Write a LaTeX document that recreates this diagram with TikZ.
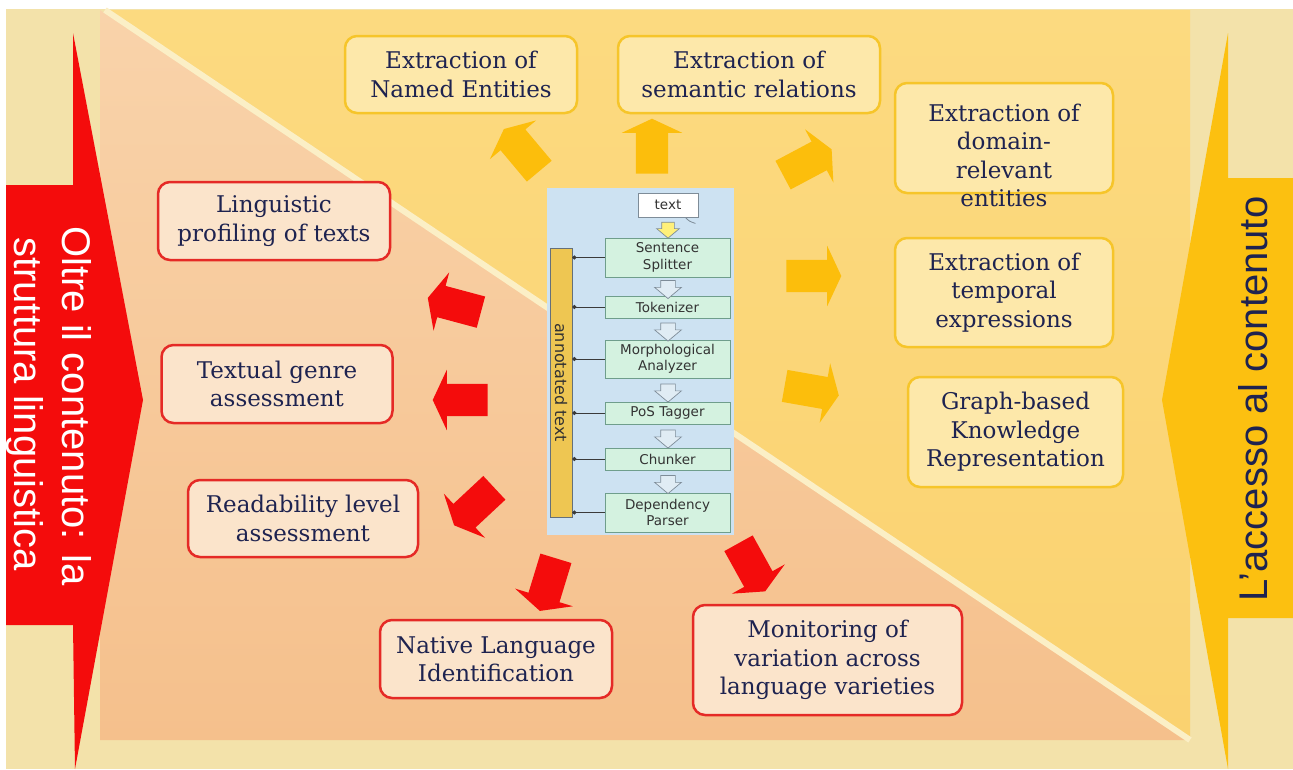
\documentclass[tikz,border=0pt]{standalone}
\usepackage{fontspec}
\setmainfont{DejaVu Serif}
\newfontfamily\bigsans{Liberation Sans}
\newfontfamily\smallsans{DejaVu Sans}
\usetikzlibrary{shapes.arrows,arrows.meta}
\definecolor{bgpale}{HTML}{F3E2AA}
\definecolor{yeltop}{HTML}{FCDA80}
\definecolor{yelbot}{HTML}{FAD270}
\definecolor{peachtop}{HTML}{F9D3AA}
\definecolor{peachbot}{HTML}{F5C08C}
\definecolor{diag}{HTML}{FBEFC6}
\definecolor{redA}{HTML}{F40C0C}
\definecolor{goldA}{HTML}{FCBE0C}
\definecolor{goldB}{HTML}{FCC010}
\definecolor{navy}{HTML}{1E2350}
\definecolor{rboxfill}{HTML}{FBE4CB}
\definecolor{yboxfill}{HTML}{FDE8AA}
\definecolor{rboxline}{HTML}{E52A26}
\definecolor{yboxline}{HTML}{F6C52A}
\definecolor{pipebg}{HTML}{CDE2F2}
\definecolor{pipebox}{HTML}{D4F2E0}
\definecolor{pipeline}{HTML}{6F9E8C}
\definecolor{pipetext}{HTML}{333333}
\definecolor{anncol}{HTML}{EEC652}
\definecolor{hollow}{HTML}{E0ECF4}
\definecolor{arrgray}{HTML}{7E8C98}
\definecolor{conncol}{HTML}{3A3A3A}
\definecolor{txtyel}{HTML}{FFF07A}
\newcommand\boxfont{\fontsize{23}{28.5}\selectfont}
\newcommand\pipefont{\smallsans\fontsize{13.5}{16.5}\selectfont}
\newcommand\hugefont{\bigsans\fontsize{40}{48}\selectfont}
\begin{document}
\begin{tikzpicture}[x=1pt,y=-1pt,
  rbox/.style={draw=rboxline, fill=rboxfill, line width=2.5pt, rounded corners=12pt, align=center, text=navy, font=\boxfont, inner sep=2pt},
  ybox/.style={draw=yboxline, fill=yboxfill, line width=2.5pt, rounded corners=12pt, align=center, text=navy, font=\boxfont, inner sep=2pt},
  btext/.style={align=center, text=navy, font=\boxfont, inner sep=0pt},
  blockarr/.style={single arrow, draw=none, inner xsep=0pt, inner ysep=16pt, minimum height=55pt, single arrow head extend=14pt, single arrow tip angle=130},
  garr/.style={blockarr, fill=goldA},
  rarr/.style={blockarr, fill=redA},
  pbox/.style={draw=pipeline, fill=pipebox, line width=0.8pt, minimum width=125pt, align=center, font=\pipefont, text=pipetext, inner sep=0pt},
  parr/.style={single arrow, draw=arrgray, fill=hollow, line width=0.7pt, inner xsep=0pt, inner ysep=7pt, minimum height=18pt, single arrow head extend=6pt, single arrow tip angle=100, rotate=-90},
  conn/.style={draw=conncol, line width=0.8pt, -{Circle[length=4pt]}},
  bigtext/.style={font=\hugefont, inner sep=0pt}
]
\useasboundingbox (0,0) rectangle (1293,769);
% background
\fill[white] (0,0) rectangle (1293,769);
\fill[bgpale] (6,9) rectangle (1293,769);
\shade[top color=peachtop, bottom color=peachbot] (100,10) -- (1190,740) -- (100,740) -- cycle;
\shade[top color=yeltop, bottom color=yelbot] (105,10) -- (1190,10) -- (1190,740) -- cycle;
\draw[diag, line width=6pt] (105,10) -- (1190,740);
% big side arrows
\fill[redA] (6,185) -- (73,185) -- (73,33) -- (143,400) -- (75,769) -- (73,625) -- (6,625) -- cycle;
\fill[goldB] (1293,178) -- (1228,178) -- (1228,33) -- (1162,400) -- (1228,769) -- (1228,618) -- (1293,618) -- cycle;
\node[bigtext, text=white, rotate=-90, anchor=base] (lt1) at (62,406) {Oltre il contenuto: la};
\node[bigtext, text=white, rotate=-90, anchor=base] (lt2) at (14,404) {struttura linguistica};
\node[bigtext, text=navy, rotate=90, anchor=base] (rt) at (1267,399) {L’accesso al contenuto};
% yellow boxes
\node[ybox, minimum width=232pt, minimum height=77pt] (ne) at (461,74.5) {Extraction of\\Named Entities};
\node[ybox, minimum width=262pt, minimum height=77pt] (sem) at (749,74.5) {Extraction of\\semantic relations};
\node[ybox, minimum width=218pt, minimum height=110pt] (dom) at (1004,138) {};
\node[btext] (domt) at (1004,155.5) {Extraction of\\domain-\\relevant\\entities};
\node[ybox, minimum width=218pt, minimum height=109pt] (temp) at (1004,292.5) {Extraction of\\temporal\\expressions};
\node[ybox, minimum width=215pt, minimum height=110pt] (graph) at (1015.5,432) {Graph-based\\Knowledge\\Representation};
% red boxes
\node[rbox, minimum width=232pt, minimum height=78pt] (ling) at (274,221) {Linguistic\\profiling of texts};
\node[rbox, minimum width=231pt, minimum height=78pt] (genre) at (277,384) {Textual genre\\assessment};
\node[rbox, minimum width=230pt, minimum height=77pt] (read) at (303,518.5) {Readability level\\assessment};
\node[rbox, minimum width=232pt, minimum height=78pt] (nli) at (496,659) {Native Language\\Identification};
\node[rbox, minimum width=269pt, minimum height=110pt] (mon) at (827.5,660) {Monitoring of\\variation across\\language varieties};
% gold block arrows
\node[garr, rotate=130] (g1) at (524,153) {};
\node[garr, rotate=90] (g2) at (652,150) {};
\node[garr, rotate=28] (g3) at (804,164) {};
\node[garr, rotate=0] (g4) at (810,276) {};
\node[garr, rotate=-10] (g5) at (808,390) {};
% red block arrows
\node[rarr, rotate=165] (r1) at (458,306) {};
\node[rarr, rotate=180] (r2) at (464,400) {};
\node[rarr, rotate=223] (r3) at (477,504) {};
\node[rarr, rotate=253] (r4) at (549,581) {};
\node[rarr, rotate=-61] (r5) at (750,564) {};
% pipeline
\node[fill=pipebg, minimum width=187pt, minimum height=347pt, inner sep=0pt] (pipe) at (640.5,361.5) {};
\node[draw=arrgray, fill=white, line width=0.8pt, minimum width=60pt, minimum height=24pt, inner sep=0pt, font=\pipefont, text=pipetext] (txt) at (668,205) {text};
\draw[arrgray, line width=0.8pt] ([xshift=-13pt]txt.south east) .. controls ([xshift=-9pt,yshift=-4pt]txt.south east) .. ([xshift=-3pt,yshift=-6pt]txt.south east);
\node[pbox, minimum height=39pt] (ss) at (667.5,257.5) {Sentence\\Splitter};
\node[pbox, minimum height=22pt] (tok) at (667.5,307) {Tokenizer};
\node[pbox, minimum height=38pt] (morph) at (667.5,359) {Morphological\\Analyzer};
\node[pbox, minimum height=22pt] (pos) at (667.5,413) {PoS Tagger};
\node[pbox, minimum height=22pt] (chunk) at (667.5,459) {Chunker};
\node[pbox, minimum height=39pt] (dep) at (667.5,512.5) {Dependency\\Parser};
\node[draw=arrgray!80!black, fill=anncol, line width=0.7pt, minimum width=22pt, minimum height=269pt, inner sep=0pt] (ann) at (561,382.5) {};
\node[rotate=-90, font=\smallsans\fontsize{16}{18}\selectfont, text=pipetext, inner sep=0pt] (annt) at (ann.center) {annotated text};
\node[single arrow, draw=arrgray, fill=txtyel, line width=0.7pt, inner xsep=0pt, inner ysep=6pt, minimum height=16pt, single arrow head extend=5pt, single arrow tip angle=100, rotate=-90] (ya) at (668,227.5) {};
\node[parr] (pa1) at (668,286.5) {};
\node[parr] (pa2) at (668,329) {};
\node[parr] (pa3) at (668,390) {};
\node[parr] (pa4) at (668,436) {};
\node[parr] (pa5) at (668,481.5) {};
\foreach \b in {ss,tok,morph,pos,chunk,dep}
  \draw[conn] (\b.west) -- (\b.west -| ann.east);
\end{tikzpicture}
\end{document}
